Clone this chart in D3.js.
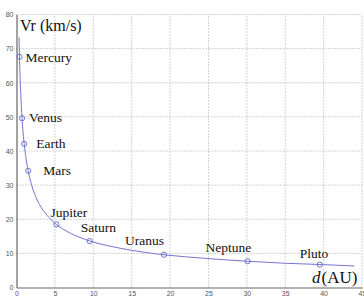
<!DOCTYPE html>
<html>
<head>
<meta charset="utf-8">
<script src="https://cdn.jsdelivr.net/npm/d3@7"></script>
<style>
  html, body { margin: 0; padding: 0; background: #fff; }
  svg { display: block; }
</style>
</head>
<body>
<svg id="chart" width="364" height="296"></svg>
<script>
// planets: distance (AU) and Vr (km/s)
const planets = ['Mercury', 'Venus', 'Earth', 'Mars', 'Jupiter', 'Saturn', 'Uranus', 'Neptune', 'Pluto']
const distances = [0.39, 0.72, 1.0, 1.52, 5.2, 9.54, 19.2, 30.1, 39.5]
const speeds = [67.6, 49.6, 42.1, 34.2, 18.5, 13.6, 9.6, 7.7, 6.7]

// fitted curve
const curveD = [0.33, 0.4, 0.5, 0.6, 0.75, 1, 1.25, 1.5, 2, 2.5, 3, 4, 5, 6, 8, 10, 12, 15, 18, 22, 26, 30, 35, 40, 44]
const curveV = [73.3, 66.6, 59.6, 54.4, 48.6, 42.1, 37.7, 34.4, 29.8, 26.6, 24.3, 21.1, 18.8, 17.2, 14.9, 13.3, 12.2, 10.9, 9.9, 9.0, 8.3, 7.7, 7.1, 6.7, 6.3]

const xTicks = [0, 5, 10, 15, 20, 25, 30, 35, 40, 45]
const yTicks = [0, 10, 20, 30, 40, 50, 60, 70, 80]

// label offsets from each marker (dx, dy)
const labelOffsets = [[6, 5], [7, 4], [12, 4], [15, 4], [-6, -7], [-9, -9], [-39, -10], [-42, -9], [-20, -7]]

const svg = d3.select('#chart')
const x = d3.scaleLinear().domain([0, 45]).range([16.5, 362])
const y = d3.scaleLinear().domain([0, 80]).range([287.5, 14.5])

const lineColor = '#7474d2'
const serif = '"Liberation Serif", "Times New Roman", serif'

// grid
svg.append('g').selectAll('line')
    .data(xTicks.slice(1))
    .join('line')
    .attr('x1', d => x(d)).attr('x2', d => x(d))
    .attr('y1', y(0)).attr('y2', y(80))
    .attr('stroke', '#a8a8a8').attr('stroke-width', 1)
    .attr('stroke-dasharray', '1,2')

svg.append('g').selectAll('line')
    .data(yTicks.slice(1))
    .join('line')
    .attr('x1', x(0)).attr('x2', x(45))
    .attr('y1', d => y(d)).attr('y2', d => y(d))
    .attr('stroke', '#a8a8a8').attr('stroke-width', 1)
    .attr('stroke-dasharray', '1,2')

// axes
const xAxis = svg.append('g')
    .attr('transform', `translate(0,${y(0)})`)
    .call(d3.axisBottom(x).tickValues(xTicks).tickSize(0).tickPadding(4))
const yAxis = svg.append('g')
    .attr('transform', `translate(${x(0)},0)`)
    .call(d3.axisLeft(y).tickValues(yTicks).tickSize(0).tickPadding(3))

;[xAxis, yAxis].forEach(g => {
  g.select('.domain').attr('stroke', '#666').attr('stroke-width', 1.2)
  g.selectAll('text')
      .attr('font-family', 'Arial, "Liberation Sans", sans-serif')
      .attr('font-size', 7)
      .attr('fill', '#555')
})

// fitted curve
const line = d3.line()
    .x((d, i) => x(d))
    .y((d, i) => y(curveV[i]))
    .curve(d3.curveMonotoneX)

svg.append('path')
    .datum(curveD)
    .attr('d', line)
    .attr('fill', 'none')
    .attr('stroke', lineColor)
    .attr('stroke-width', 1)

// markers
svg.append('g').selectAll('circle')
    .data(planets)
    .join('circle')
    .attr('cx', (d, i) => x(distances[i]))
    .attr('cy', (d, i) => y(speeds[i]))
    .attr('r', 2.6)
    .attr('fill', 'none')
    .attr('stroke', lineColor)
    .attr('stroke-width', 1)

// planet names
svg.append('g').selectAll('text')
    .data(planets)
    .join('text')
    .attr('x', (d, i) => x(distances[i]) + labelOffsets[i][0])
    .attr('y', (d, i) => y(speeds[i]) + labelOffsets[i][1])
    .attr('font-family', serif)
    .attr('font-size', 13.5)
    .attr('fill', '#111')
    .text(d => d)

// axis titles
svg.append('text')
    .attr('x', 20).attr('y', 31)
    .attr('font-family', serif)
    .attr('font-size', 16)
    .attr('fill', '#111')
    .text('Vr (km/s)')

const xt = svg.append('text')
    .attr('x', 312).attr('y', 283)
    .attr('font-family', serif)
    .attr('font-size', 17)
    .attr('fill', '#111')
xt.append('tspan').attr('font-style', 'italic').text('d')
xt.append('tspan').attr('dx', 1).text('(AU)')
</script>
</body>
</html>
